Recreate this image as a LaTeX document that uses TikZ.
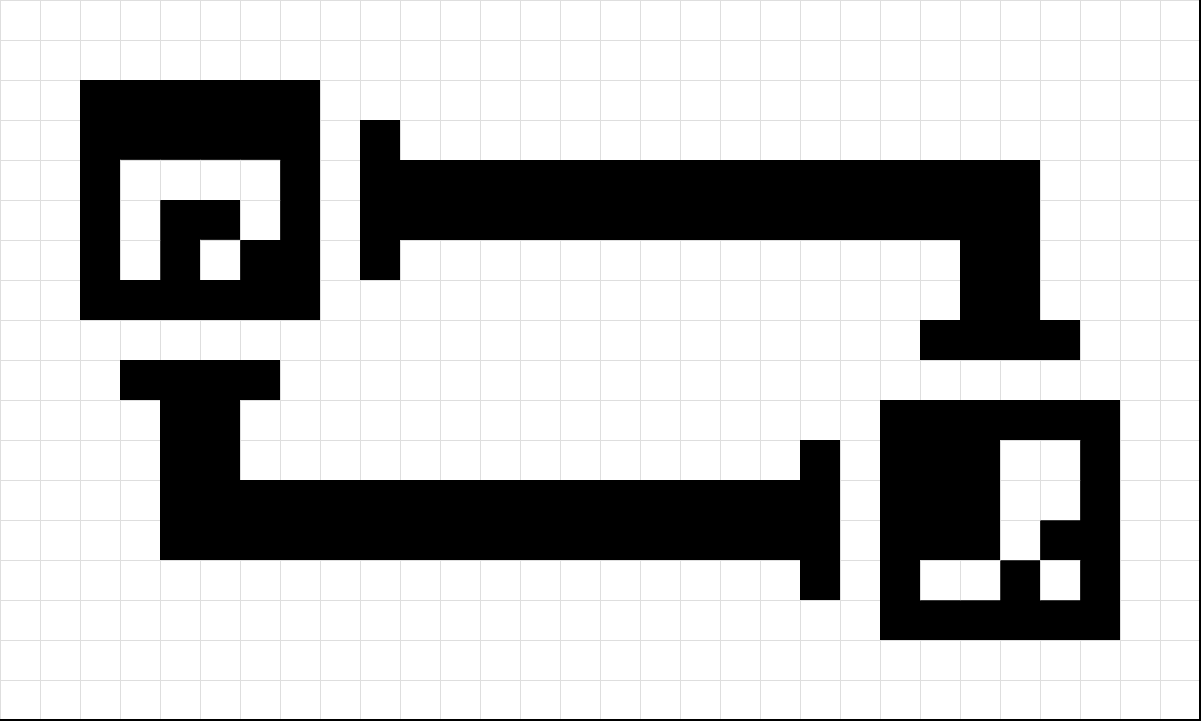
\documentclass[tikz,border=0pt]{standalone}
\begin{document}
\begin{tikzpicture}[x=1cm,y=-1cm,
  gridline/.style={draw=black!13,line width=0.7pt},
  ink/.style={fill=black},
  paper/.style={fill=white},
  frameline/.style={draw=black,line width=1.45pt}]
\useasboundingbox (0,0) rectangle (30.025,18.025);
\fill[white] (0,0) rectangle (30.025,18.025);
% grid
\foreach \i in {0,...,30} \draw[gridline] (\i+0.0125,0) -- (\i+0.0125,18.025);
\foreach \j in {0,...,18} \draw[gridline] (0,\j+0.0125) -- (30.025,\j+0.0125);
% top-left box
\path[ink] (2,2) rectangle (8,8);
% bottom-right box
\path[ink] (22,10) rectangle (28,16);
% white cells with grid inside the boxes
\begin{scope}
\clip (3,4) rectangle (7,5) (3,5) rectangle (4,7) (6,5) rectangle (7,6) (5,6) rectangle (6,7)
      (25,11) rectangle (27,13) (25,13) rectangle (26,14) (23,14) rectangle (25,15) (26,14) rectangle (27,15);
\fill[white] (0,0) rectangle (30,18);
\foreach \i in {3,...,27} \draw[gridline] (\i+0.0125,3) -- (\i+0.0125,16);
\foreach \j in {3,...,16} \draw[gridline] (2,\j+0.0125) -- (28,\j+0.0125);
\end{scope}
% top connector
\path[ink] (9,3) rectangle (10,7);
\path[ink] (10,4) rectangle (26,6);
\path[ink] (24,6) rectangle (26,8);
\path[ink] (23,8) rectangle (27,9);
% bottom connector
\path[ink] (3,9) rectangle (7,10);
\path[ink] (4,10) rectangle (6,12);
\path[ink] (4,12) rectangle (21,14);
\path[ink] (20,11) rectangle (21,15);
% frame right and bottom
\draw[frameline] (30,0) -- (30,18.025);
\draw[frameline] (0,18) -- (30.025,18);
\end{tikzpicture}
\end{document}
